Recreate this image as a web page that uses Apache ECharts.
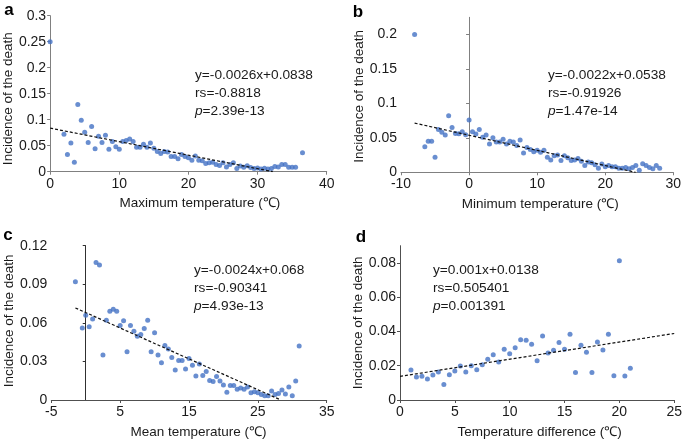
<!DOCTYPE html>
<html><head><meta charset="utf-8">
<script src="https://cdn.jsdelivr.net/npm/echarts@6/dist/echarts.min.js"></script>
<style>html,body{margin:0;padding:0;background:#fff}#c{width:685px;height:440px}</style>
</head><body><div id="c"></div>
<script>
// ---- Panel a: maximum temperature ----
const maxTempX = [0,2,2.5,3,3.5,4,4.5,5,5.5,6,6.5,7,7.5,8,8.5,9,9.5,10,10.5,11,11.5,12,12.5,13,13.5,14,14.5,15,15.5,16,16.5,17,17.5,18,18.5,19,19.5,20,20.5,21,21.5,22,22.5,23,23.5,24,24.5,25,25.5,26,26.5,27,27.5,28,28.5,29,29.5,30,30.5,31,31.5,32,32.5,33,33.5,34,34.5,35,35.5,36.5];
const maxTempY = [0.25,0.072,0.033,0.055,0.018,0.129,0.099,0.076,0.056,0.087,0.044,0.068,0.056,0.070,0.043,0.058,0.048,0.043,0.058,0.060,0.063,0.058,0.047,0.047,0.053,0.047,0.055,0.045,0.039,0.035,0.039,0.038,0.029,0.029,0.025,0.033,0.029,0.027,0.022,0.030,0.022,0.021,0.016,0.017,0.018,0.014,0.012,0.017,0.009,0.014,0.017,0.006,0.011,0.0085,0.0115,0.008,0.006,0.007,0.005,0.0065,0.005,0.006,0.010,0.009,0.014,0.014,0.0085,0.0085,0.0085,0.0365];
// ---- Panel b: minimum temperature ----
const minTempX = [-8,-6.5,-6,-5.5,-5,-4.5,-4,-3.5,-3,-2.5,-2,-1.5,-1,-0.5,0,0.5,1,1.5,2,2.5,3,3.5,4,4.5,5,5.5,6,6.5,7,7.5,8,8.5,9,9.5,10,10.5,11,11.5,12,12.5,13,13.5,14,14.5,15,15.5,16,16.5,17,17.5,18,18.5,19,19.5,20,20.5,21,21.5,22,22.5,23,23.5,24,24.5,25,25.5,26,26.5,27,27.5,28];
const minTempY = [0.2,0.037,0.045,0.045,0.022,0.062,0.058,0.054,0.082,0.065,0.0565,0.056,0.059,0.0545,0.076,0.059,0.0555,0.062,0.051,0.054,0.041,0.050,0.044,0.044,0.048,0.041,0.045,0.044,0.039,0.047,0.028,0.036,0.033,0.030,0.032,0.029,0.032,0.022,0.018,0.024,0.025,0.017,0.024,0.021,0.017,0.018,0.020,0.016,0.010,0.015,0.014,0.011,0.006,0.012,0.008,0.010,0.008,0.008,0.006,0.006,0.007,0.005,0.007,0.010,0.003,0.0125,0.010,0.007,0.005,0.0097,0.006];
// ---- Panel c: mean temperature ----
const meanTempX = [-1.5,-0.5,0,0.5,1,1.5,2,2.5,3,3.5,4,4.5,5,5.5,6,6.5,7,7.5,8,8.5,9,9.5,10,10.5,11,11.5,12,12.5,13,13.5,14,14.5,15,15.5,16,16.5,17,17.5,18,18.5,19,19.5,20,20.5,21,21.5,22,22.5,23,23.5,24,24.5,25,25.5,26,26.5,27,27.5,28,28.5,29,29.5,30,30.5,31];
const meanTempY = [0.092,0.056,0.066,0.057,0.063,0.107,0.105,0.035,0.062,0.069,0.0705,0.069,0.058,0.0617,0.0375,0.058,0.0534,0.0495,0.051,0.0557,0.062,0.0375,0.0523,0.035,0.029,0.0424,0.0396,0.033,0.0234,0.0307,0.0307,0.0242,0.0323,0.0271,0.0187,0.028,0.019,0.0222,0.0152,0.0143,0.0182,0.0148,0.0116,0.006,0.0112,0.0112,0.0083,0.0094,0.0083,0.0102,0.0057,0.0065,0.0057,0.0042,0.0034,0.0034,0.007,0.0042,0.005,0.0078,0.0047,0.0102,0.0034,0.0148,0.042];
// ---- Panel d: temperature difference ----
const diffX = [1,1.5,2,2.5,3,3.5,4,4.5,5,5.5,6,6.5,7,7.5,8,8.5,9,9.5,10,10.5,11,11.5,12,12.5,13,13.5,14,14.5,15,15.5,16,16.5,17,17.5,18,18.5,19,19.5,20,20.5,21];
const diffY = [0.0175,0.0134,0.0138,0.0122,0.0146,0.0163,0.0091,0.0148,0.0169,0.0198,0.0163,0.020,0.0177,0.0206,0.0237,0.0264,0.0222,0.0296,0.027,0.0305,0.0352,0.0348,0.0325,0.0229,0.0373,0.0274,0.029,0.0336,0.0296,0.0383,0.0161,0.0319,0.0278,0.0161,0.0338,0.0292,0.0383,0.0142,0.0812,0.014,0.0185];

// regression fits
const fitSlope = [-0.0026,-0.0022,-0.0024,0.001];
const fitIntercept = [0.0838,0.0538,0.068,0.0138];
const fitStart = [0,-8,-1.5,0];
const fitEnd = [32.2,24.45,28.3,25];

// annotation texts
const eqText = ['y=-0.0026x+0.0838','y=-0.0022x+0.0538','y=-0.0024x+0.068','y=0.001x+0.0138'];
const rsText = ['rs=-0.8818','rs=-0.91926','rs=-0.90341','rs=0.505401'];
const pText = ['2.39e-13','1.47e-14','4.93e-13','0.001391'];
const panelLetters = ['a','b','c','d'];
const xTitles = ['Maximum temperature (℃)','Minimum temperature (℃)','Mean temperature (℃)','Temperature difference (℃)'];
const yTitle = 'Incidence of the death';

const FONT = '"Liberation Sans", Arial, sans-serif';
const DOT = '#4472C4';
const zip = (xs, ys) => xs.map((x, i) => [x, ys[i]]);
const fitLine = i => [[fitStart[i], fitSlope[i]*fitStart[i]+fitIntercept[i]], [fitEnd[i], fitSlope[i]*fitEnd[i]+fitIntercept[i]]];

const chart = echarts.init(document.getElementById('c'), null, {renderer: 'canvas'});

function xAxis(grid, min, max, interval, name, color, pad) {
  return {
    type: 'value', gridIndex: grid, min, max, interval,
    name, nameLocation: 'middle', nameGap: 25,
    nameTextStyle: {fontFamily: FONT, fontSize: 13.5, color: '#1a1a1a', padding: [0,0,0,pad]},
    axisLine: {show: true, lineStyle: {color, width: 1}},
    axisTick: {show: true, length: 3, lineStyle: {color}},
    axisLabel: {fontFamily: FONT, fontSize: 14, color: '#1a1a1a', margin: 5},
    splitLine: {show: false}
  };
}
function yAxisMain(grid, min, max, interval, color, gap, showLine, tickVals, labelVals, namePad) {
  return {
    type: 'value', gridIndex: grid, min, max, interval, position: 'left',
    name: yTitle, nameLocation: 'middle', nameGap: gap,
    nameTextStyle: {fontFamily: FONT, fontSize: 13.5, color: '#1a1a1a', padding: namePad},
    axisLine: {show: showLine, onZero: false, lineStyle: {color, width: 1}},
    axisTick: {show: showLine, length: 3, lineStyle: {color}, customValues: tickVals},
    axisLabel: {fontFamily: FONT, fontSize: 14, color: '#1a1a1a', margin: 4, customValues: labelVals},
    splitLine: {show: false}
  };
}
function yAxisZero(grid, min, max, interval, color, tickVals) {
  return {
    type: 'value', gridIndex: grid, min, max, interval, position: 'left',
    axisLine: {show: true, onZero: true, lineStyle: {color, width: 1}},
    axisTick: {show: true, length: 3, lineStyle: {color}, customValues: tickVals},
    axisLabel: {show: false},
    splitLine: {show: false}
  };
}

const scatterSeries = (xi, yi, data) => ({
  type: 'scatter', xAxisIndex: xi, yAxisIndex: yi, data,
  symbol: 'circle', symbolSize: 5, itemStyle: {color: DOT}, silent: true
});
const lineSeries = (xi, yi, i) => ({
  type: 'line', xAxisIndex: xi, yAxisIndex: yi, data: fitLine(i),
  symbol: 'none', silent: true, z: 3,
  lineStyle: {color: '#111', width: 1.2, type: [3, 2]}
});

const textPos = [[195,75],[548,75],[194,270],[433,270.5]];
const letterPos = [[9,10],[358,12.5],[8,235],[361,237.5]];
const graphics = [];
for (let i = 0; i < 4; i++) {
  const [tx, ty] = textPos[i];
  const lines = [eqText[i], rsText[i], '{i|p}=' + pText[i]];
  lines.forEach((t, k) => graphics.push({
    type: 'text', x: tx, y: ty + k*18,
    style: {text: t, fontFamily: FONT, fontSize: 13.7, fill: '#1a1a1a', align: 'left', verticalAlign: 'middle',
      rich: {i: {fontStyle: 'italic', fontFamily: FONT, fontSize: 13.7, fill: '#1a1a1a'}}}
  }));
  graphics.push({
    type: 'text', x: letterPos[i][0], y: letterPos[i][1],
    style: {text: panelLetters[i], fontFamily: FONT, fontSize: 17, fontWeight: 'bold', fill: '#000', align: 'center', verticalAlign: 'middle'}
  });
}

const option = {
  animation: false,
  backgroundColor: '#fff',
  grid: [
    {left: 50, top: 15.7, width: 276.7, height: 156},
    {left: 401, top: 17.3, width: 272.3, height: 155},
    {left: 51.3, top: 245.7, width: 275.4, height: 154.3},
    {left: 400, top: 245.7, width: 275.5, height: 154.3}
  ],
  xAxis: [
    xAxis(0, 0, 40, 10, xTitles[0], '#808080', 23),
    xAxis(1, -10, 30, 10, xTitles[1], '#808080', 6),
    xAxis(2, -5, 35, 10, xTitles[2], '#505050', 19),
    xAxis(3, 0, 25, 5, xTitles[3], '#505050', 5)
  ],
  yAxis: [
    yAxisMain(0, 0, 0.3, 0.05, '#808080', 32, true, [0,0.05,0.1,0.15,0.2,0.25,0.3], [0,0.05,0.1,0.15,0.2,0.25,0.3], [0,10,0,0]),
    yAxisMain(1, 0, 0.225, 0.05, '#808080', 31, false, [0,0.05,0.1,0.15,0.2], [0,0.05,0.1,0.15,0.2], [0,3,0,0]),
    yAxisZero(1, 0, 0.225, 0.05, '#808080', [0.05,0.1,0.15,0.2]),
    yAxisMain(2, 0, 0.12, 0.03, '#505050', 35, false, [0,0.03,0.06,0.09,0.12], [0,0.03,0.06,0.09,0.12], [0,0,0,4]),
    yAxisZero(2, 0, 0.12, 0.03, '#303030', [0.03,0.06,0.09,0.12]),
    yAxisMain(3, 0, 0.09, 0.02, '#505050', 33, true, [0,0.02,0.04,0.06,0.08], [0,0.02,0.04,0.06,0.08], [0,0,0,0])
  ],
  series: [
    scatterSeries(0, 0, zip(maxTempX, maxTempY)), lineSeries(0, 0, 0),
    scatterSeries(1, 1, zip(minTempX, minTempY)), lineSeries(1, 1, 1),
    scatterSeries(2, 3, zip(meanTempX, meanTempY)), lineSeries(2, 3, 2),
    scatterSeries(3, 5, zip(diffX, diffY)), lineSeries(3, 5, 3)
  ],
  graphic: graphics
};
chart.setOption(option);
</script>
</body></html>
